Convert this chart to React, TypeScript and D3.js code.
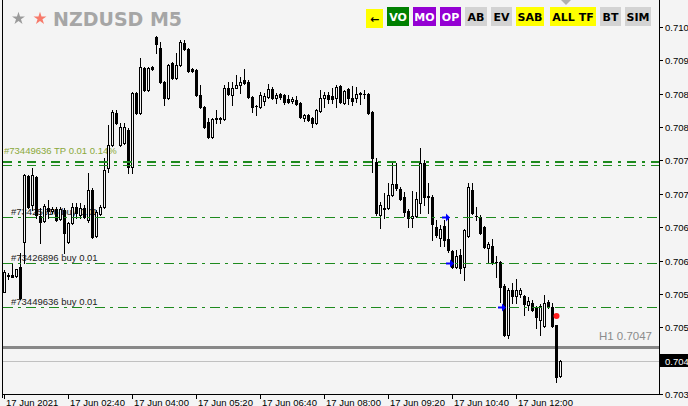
import * as d3 from "d3";

// 5-minute bars, 17 Jun 2021 from 01:20
const opens = [
  0.70564, 0.70592, 0.70592, 0.70591, 0.70605, 0.70647, 0.70755, 0.70708, 0.70754, 0.70689,
  0.70681, 0.70703, 0.70698, 0.70701, 0.70684, 0.70699, 0.70647, 0.70678, 0.70704, 0.70691,
  0.70703, 0.70683, 0.70732, 0.70656, 0.70693, 0.70704, 0.70769, 0.70806, 0.70859, 0.70806,
  0.7081, 0.70831, 0.7077, 0.70892, 0.70859, 0.70933, 0.70897, 0.70935, 0.70985, 0.70966,
  0.7091, 0.70884, 0.70942, 0.70917, 0.70938, 0.70975, 0.70965, 0.70932, 0.7093, 0.70889,
  0.70869, 0.70844, 0.7082, 0.70849, 0.70851, 0.70849, 0.709, 0.70889, 0.709, 0.70905,
  0.70914, 0.7091, 0.70886, 0.7087, 0.70869, 0.70879, 0.70886, 0.70899, 0.70884, 0.70891,
  0.70889, 0.70882, 0.70879, 0.70881, 0.70876, 0.70851, 0.70856, 0.70851, 0.70843, 0.70863,
  0.70884, 0.70889, 0.70887, 0.70884, 0.70904, 0.70876, 0.70899, 0.70884, 0.70884, 0.70892,
  0.70891, 0.70891, 0.70861, 0.70778, 0.70691, 0.70701, 0.70703, 0.70724, 0.70742, 0.70734,
  0.70721, 0.70698, 0.70686, 0.70689, 0.70711, 0.70777, 0.70722, 0.70721, 0.70671, 0.70653,
  0.70673, 0.70652, 0.70632, 0.70605, 0.70625, 0.70605, 0.70656, 0.70732, 0.70689, 0.70688,
  0.70671, 0.70637, 0.7064, 0.70613, 0.70614, 0.70574, 0.70494, 0.70568, 0.70558, 0.70561,
  0.70558, 0.70543, 0.70546, 0.70539, 0.70518, 0.70508, 0.70548, 0.70539, 0.7051, 0.70426,
];
const highs = [
  0.706, 0.70595, 0.70612, 0.70602, 0.70628, 0.70758, 0.70757, 0.70769, 0.70755, 0.70703,
  0.70709, 0.70716, 0.70704, 0.70704, 0.70704, 0.70703, 0.7068, 0.70711, 0.70711, 0.70711,
  0.70708, 0.7076, 0.70736, 0.70699, 0.70708, 0.70785, 0.70839, 0.70864, 0.70864, 0.70843,
  0.70843, 0.70834, 0.70894, 0.70894, 0.7095, 0.70935, 0.70935, 0.70937, 0.70986, 0.70976,
  0.70912, 0.7094, 0.70943, 0.70958, 0.7098, 0.7098, 0.70966, 0.70933, 0.70932, 0.70905,
  0.70871, 0.70851, 0.70851, 0.70864, 0.70853, 0.70905, 0.7091, 0.7091, 0.70922, 0.70919,
  0.70932, 0.70914, 0.70887, 0.70872, 0.70894, 0.70892, 0.70907, 0.70902, 0.70892, 0.70892,
  0.70891, 0.70889, 0.70886, 0.70887, 0.70877, 0.70858, 0.70858, 0.70853, 0.70866, 0.70897,
  0.70894, 0.70894, 0.709, 0.70905, 0.70905, 0.70897, 0.709, 0.70904, 0.70902, 0.70894,
  0.70897, 0.70892, 0.70863, 0.70785, 0.70713, 0.70727, 0.70744, 0.70777, 0.70777, 0.70737,
  0.70729, 0.70701, 0.70731, 0.70729, 0.70802, 0.70782, 0.70744, 0.70724, 0.70683, 0.70675,
  0.70683, 0.70686, 0.70633, 0.70633, 0.70635, 0.70668, 0.70744, 0.70744, 0.70704, 0.70691,
  0.70673, 0.70647, 0.70652, 0.70623, 0.70615, 0.70577, 0.70571, 0.70579, 0.70586, 0.70571,
  0.70559, 0.70556, 0.70551, 0.70541, 0.70544, 0.70559, 0.70551, 0.70546, 0.7051, 0.70452,
];
const lows = [
  0.70564, 0.70586, 0.70589, 0.70589, 0.70553, 0.70612, 0.70703, 0.70699, 0.70686, 0.70645,
  0.7068, 0.70686, 0.70694, 0.70681, 0.70683, 0.70628, 0.70645, 0.70676, 0.70686, 0.70686,
  0.70686, 0.7068, 0.70653, 0.70655, 0.70691, 0.70703, 0.70762, 0.70805, 0.70841, 0.70805,
  0.70808, 0.7076, 0.7076, 0.70858, 0.70858, 0.70895, 0.70895, 0.7093, 0.70958, 0.70909,
  0.70872, 0.70882, 0.70915, 0.70915, 0.70937, 0.70963, 0.70927, 0.70927, 0.70887, 0.70867,
  0.70834, 0.70818, 0.70818, 0.70843, 0.70843, 0.70848, 0.70889, 0.70872, 0.709, 0.70892,
  0.70907, 0.70884, 0.70861, 0.70856, 0.70867, 0.70872, 0.70884, 0.70882, 0.70876, 0.70882,
  0.70874, 0.70876, 0.70876, 0.70873, 0.70851, 0.70846, 0.70846, 0.70836, 0.70841, 0.70861,
  0.70869, 0.70876, 0.70876, 0.70869, 0.70876, 0.70874, 0.70874, 0.70872, 0.70877, 0.70874,
  0.70884, 0.70858, 0.70762, 0.70691, 0.7067, 0.70686, 0.70701, 0.70722, 0.70732, 0.70716,
  0.70689, 0.70671, 0.70671, 0.70688, 0.70694, 0.70708, 0.70694, 0.7065, 0.70655, 0.7064,
  0.7064, 0.7063, 0.70604, 0.70604, 0.70595, 0.70584, 0.70655, 0.70693, 0.70683, 0.7066,
  0.70637, 0.70612, 0.7061, 0.70589, 0.70548, 0.70492, 0.70488, 0.70546, 0.70546, 0.70556,
  0.70526, 0.70534, 0.70533, 0.70505, 0.70493, 0.70506, 0.70538, 0.70506, 0.70416, 0.70424,
];
const closes = [
  0.70597, 0.70591, 0.70589, 0.70602, 0.70554, 0.70757, 0.70704, 0.70757, 0.70691, 0.7068,
  0.70706, 0.70698, 0.70701, 0.70683, 0.70701, 0.70661, 0.70678, 0.70704, 0.70694, 0.70703,
  0.70688, 0.70732, 0.70655, 0.70696, 0.70704, 0.70765, 0.70806, 0.70861, 0.70843, 0.70836,
  0.70836, 0.7077, 0.70892, 0.70859, 0.70935, 0.70897, 0.70933, 0.70932, 0.70973, 0.7091,
  0.70884, 0.70938, 0.70917, 0.70938, 0.70976, 0.70965, 0.70928, 0.70928, 0.70889, 0.70869,
  0.70836, 0.7082, 0.70849, 0.70851, 0.7085, 0.709, 0.70891, 0.709, 0.70905, 0.7091,
  0.70909, 0.70886, 0.70869, 0.70871, 0.70889, 0.70887, 0.70899, 0.70884, 0.70889, 0.70886,
  0.70877, 0.70877, 0.70882, 0.70874, 0.70853, 0.70856, 0.70848, 0.70843, 0.70864, 0.70884,
  0.70889, 0.70882, 0.70882, 0.70902, 0.70877, 0.70895, 0.70884, 0.70879, 0.70891, 0.70891,
  0.70891, 0.70859, 0.70785, 0.70694, 0.70708, 0.70703, 0.70724, 0.70742, 0.70736, 0.70717,
  0.70696, 0.70686, 0.70689, 0.70717, 0.70777, 0.70721, 0.70721, 0.70676, 0.70658, 0.70668,
  0.7065, 0.70633, 0.70605, 0.70623, 0.70604, 0.70666, 0.70737, 0.70694, 0.70689, 0.70661,
  0.70638, 0.70643, 0.70612, 0.70614, 0.70572, 0.70493, 0.70567, 0.70558, 0.70567, 0.70567,
  0.70544, 0.70549, 0.70534, 0.70523, 0.70541, 0.70546, 0.70539, 0.70508, 0.70424, 0.7045,
];

const timeTickBars = [0, 16, 32, 48, 64, 80, 96, 112, 128];
const timeTickLabels = [
  "17 Jun 2021", "17 Jun 02:40", "17 Jun 04:00", "17 Jun 05:20", "17 Jun 06:40",
  "17 Jun 08:00", "17 Jun 09:20", "17 Jun 10:40", "17 Jun 12:00",
];
const priceTicks = [
  0.70396, 0.70451, 0.70506, 0.70561, 0.70616, 0.70671, 0.70726, 0.70781, 0.70836,
  0.70891, 0.70946, 0.71001,
];
const priceTickLabels = [
  "0.703", "0.704", "0.705", "0.705", "0.706", "0.706", "0.707", "0.707", "0.708",
  "0.708", "0.709", "0.710",
];

// trade objects
const tpLevels = [0.70778, 0.70774];
const orderLevels = [0.70687, 0.70612, 0.70539];
const orderLabels = ["#73425616 buy 0.01", "#73426896 buy 0.01", "#73449636 buy 0.01"];
const entryBars = [110, 111, 124];
const entryPrices = [0.70687, 0.70612, 0.70539];
const exitBar = 138;
const exitPrice = 0.70525;
const h1Level = 0.70474;

const buttons = [
  { label: "←", bg: "#ffff00", fg: "#000" },
  { label: "VO", bg: "#008000", fg: "#fff" },
  { label: "MO", bg: "#9400d3", fg: "#fff" },
  { label: "OP", bg: "#9400d3", fg: "#fff" },
  { label: "AB", bg: "#d3d3d3", fg: "#000" },
  { label: "EV", bg: "#d3d3d3", fg: "#000" },
  { label: "SAB", bg: "#ffff00", fg: "#000" },
  { label: "ALL TF", bg: "#ffff00", fg: "#000" },
  { label: "BT", bg: "#d3d3d3", fg: "#000" },
  { label: "SIM", bg: "#d3d3d3", fg: "#000" },
];
const buttonX = [366, 387, 413, 440, 465, 491, 516, 550, 600, 625];
const buttonW = [17, 22, 23, 21, 22, 21, 28, 46, 21, 26];

const W = 688;
const H = 406;
const BG = "#f4f4f4";
const GREEN = "#1e8a1e";
const AXIS_X = 659;
const AXIS_Y = 394;
const FONT = "'Liberation Sans', Arial, sans-serif";

const x = d3.scaleLinear().domain([0, opens.length - 1]).range([4, 560]);
const y = d3.scaleLinear().domain([0.70396, 0.71001]).range([394, 27]);

function Candles() {
  return (
    <g shapeRendering="crispEdges">
      {opens.map((o, i) => {
        const c = closes[i];
        const cx = Math.round(x(i));
        const yh = Math.round(y(highs[i]));
        const yl = Math.round(y(lows[i]));
        const yo = Math.round(y(o));
        const yc = Math.round(y(c));
        const top = Math.min(yo, yc);
        const bot = Math.max(yo, yc);
        let body;
        if (bot - top < 2) {
          body = <rect x={cx - 1} y={top} width={3} height={bot - top + 1} fill="#000" />;
        } else if (c > o) {
          body = (
            <rect x={cx - 0.5} y={top + 0.5} width={2} height={bot - top}
              fill={BG} stroke="#000" strokeWidth={1} />
          );
        } else {
          body = <rect x={cx - 1} y={top} width={3} height={bot - top + 1} fill="#000" />;
        }
        return (
          <g key={i}>
            <rect x={cx} y={yh} width={1} height={yl - yh + 1} fill="#000" />
            {body}
          </g>
        );
      })}
    </g>
  );
}

function PriceAxis() {
  const bid = closes[closes.length - 1];
  const by = Math.round(y(bid));
  return (
    <g fontFamily={FONT} fontSize={9.5}>
      <line x1={AXIS_X + 0.5} x2={AXIS_X + 0.5} y1={0} y2={AXIS_Y + 1} stroke="#000" />
      {priceTicks.map((p, i) => {
        const ty = Math.round(y(p)) + 0.5;
        return (
          <g key={i}>
            <line x1={AXIS_X} x2={AXIS_X + 4} y1={ty} y2={ty} stroke="#000" />
            <text x={665} y={ty + 3.5} fill="#000">{priceTickLabels[i]}</text>
          </g>
        );
      })}
      <rect x={660} y={by - 7} width={28} height={13} fill="#000" />
      <text x={665} y={by + 3.5} fill="#fff">{priceTickLabels[1]}</text>
    </g>
  );
}

function TimeAxis() {
  return (
    <g fontFamily={FONT} fontSize={9.5}>
      <line x1={2} x2={AXIS_X + 1} y1={AXIS_Y + 0.5} y2={AXIS_Y + 0.5} stroke="#000" />
      {timeTickBars.map((b, i) => {
        const tx = Math.round(x(b)) + 0.5;
        return (
          <g key={i}>
            <line x1={tx} x2={tx} y1={AXIS_Y} y2={AXIS_Y + 5} stroke="#000" />
            <text x={tx + 1.5} y={405.5} fill="#000">{timeTickLabels[i]}</text>
          </g>
        );
      })}
    </g>
  );
}

function TradeObjects() {
  const tpY = tpLevels.map((p) => Math.round(y(p)) + 0.5);
  return (
    <g>
      <line x1={3} x2={AXIS_X} y1={tpY[0] - 0.5} y2={tpY[0] - 0.5} stroke={GREEN}
        strokeWidth={2} strokeDasharray="9 6 3 6" />
      <line x1={3} x2={AXIS_X} y1={tpY[1]} y2={tpY[1]} stroke={GREEN}
        strokeWidth={1} strokeDasharray="9 6 3 6" />
      {orderLevels.map((p, i) => {
        const ly = Math.round(y(p)) + 0.5;
        return (
          <line key={i} x1={3} x2={AXIS_X} y1={ly} y2={ly} stroke={GREEN}
            strokeWidth={1} strokeDasharray="10 5 3 5" />
        );
      })}
      {entryBars.map((b, i) => {
        const ax = Math.round(x(b)) + 2;
        const ay = Math.round(y(entryPrices[i])) + 0.5;
        return (
          <path key={i}
            d={`M${ax - 4},${ay - 1}h4v-3l4,4l-4,4v-3h-4z`}
            fill="#0000ff" />
        );
      })}
      <circle cx={Math.round(x(exitBar)) + 0.5} cy={Math.round(y(exitPrice))} r={3}
        fill="#ff1a1a" />
    </g>
  );
}

function Labels() {
  return (
    <g fontFamily={FONT} fontSize={9.5}>
      <text x={4} y={Math.round(y(tpLevels[0])) - 8} fill="#8aa83a">
        #73449636  TP 0.01 0.14%
      </text>
      {orderLevels.map((p, i) => (
        <text key={i} x={11} y={Math.round(y(p)) - 2} fill="#222">
          {orderLabels[i]}
        </text>
      ))}
    </g>
  );
}

function Header() {
  const star = d3.symbol().type(d3.symbolStar).size(52)();
  return (
    <g>
      <path d={star || undefined} transform="translate(18.5,18.5)" fill="#9a9a9a" />
      <path d={star || undefined} transform="translate(40,18.5)" fill="#f77a6a" />
      <text x={53} y={26} fontFamily="'DejaVu Sans', sans-serif" fontWeight="bold"
        fontSize={19} fill="#a6a6a6">
        NZDUSD M5
      </text>
      <path d="M561,0h10l-5,5z" fill="#b0b0b0" />
      {buttons.map((b, i) => {
        const top = i === 0 ? 9 : 7;
        return (
          <g key={i}>
            <rect x={buttonX[i]} y={top} width={buttonW[i]} height={19} fill={b.bg} />
            <text x={buttonX[i] + buttonW[i] / 2} y={top + 14} textAnchor="middle"
              fontFamily="'DejaVu Sans', sans-serif" fontWeight="bold" fontSize={11}
              fill={b.fg}>
              {b.label}
            </text>
          </g>
        );
      })}
    </g>
  );
}

export default function App() {
  const h1y = Math.round(y(h1Level));
  const bidY = Math.round(y(closes[closes.length - 1])) + 0.5;
  return (
    <svg width={W} height={H} style={{ position: "absolute", left: 0, top: 0 }}>
      <rect width={W} height={H} fill={BG} />
      <Labels />
      <line x1={3} x2={AXIS_X} y1={bidY} y2={bidY} stroke="#c0c0c0" />
      <rect x={3} y={h1y - 1} width={AXIS_X - 3} height={3} fill="#888" />
      <text x={652} y={h1y - 7} textAnchor="end" fontFamily={FONT} fontSize={11.5}
        fill="#8c8c8c">
        H1 0.7047
      </text>
      <Candles />
      <TradeObjects />
      <line x1={2.5} x2={2.5} y1={0} y2={AXIS_Y + 4} stroke="#000" />
      <PriceAxis />
      <TimeAxis />
      <Header />
    </svg>
  );
}
